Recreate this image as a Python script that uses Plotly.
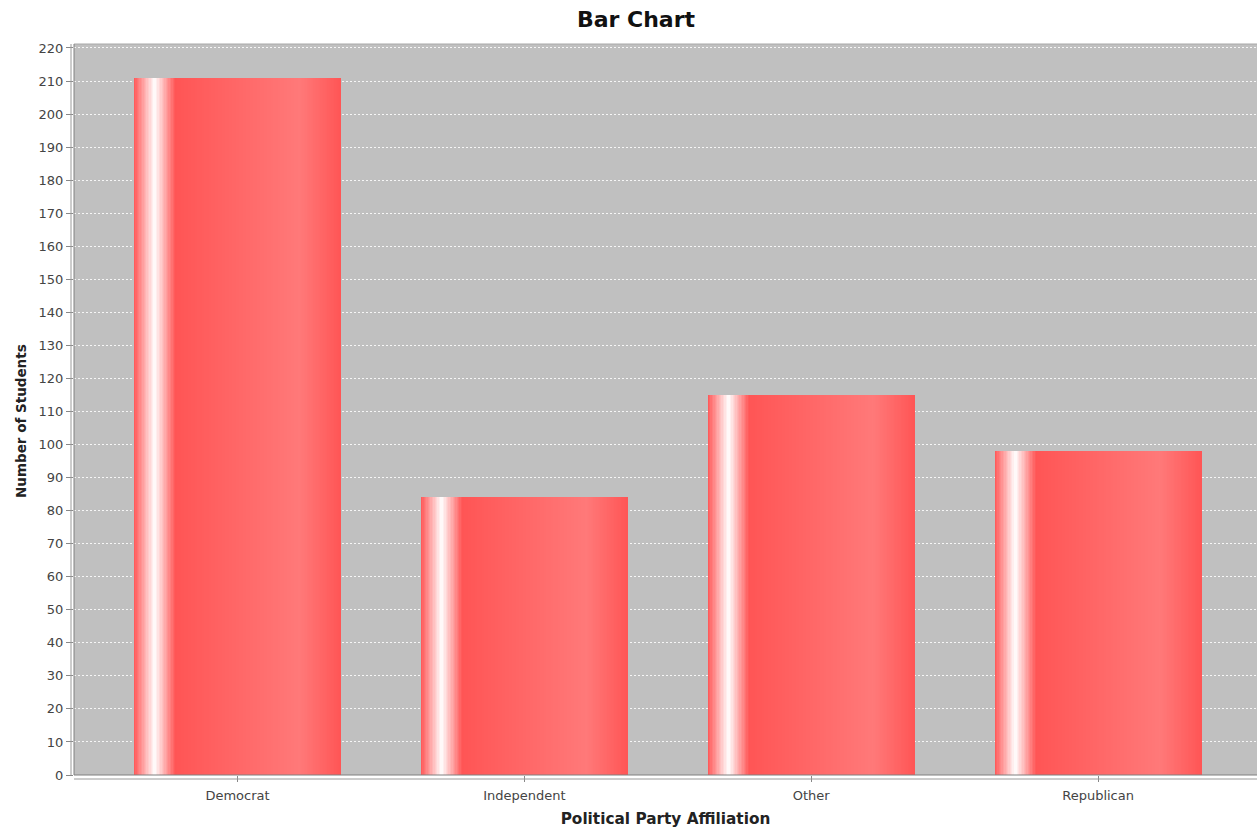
import plotly.graph_objects as go

# Survey counts by party affiliation
categories = ["Democrat", "Independent", "Other", "Republican"]
students = [211, 84, 115, 98]
y_ticks = list(range(0, 221, 10))

# Bar styling: horizontal "glossy" gradient built from thin overlaid slices
BAR_WIDTH = 0.722
N_SLICES = 150
BASE = (255, 85, 85)
BRIGHT = (255, 121, 121)
WHITE = (255, 255, 255)
STOPS = [(0.0, BASE), (0.1, WHITE), (0.2, BASE), (0.8, BRIGHT), (1.0, BASE)]

FONT = "DejaVu Sans"


def shade(t):
    for (t0, c0), (t1, c1) in zip(STOPS[:-1], STOPS[1:]):
        if t0 <= t <= t1:
            f = (t - t0) / (t1 - t0)
            r, g, b = (round(a + (b_ - a) * f) for a, b_ in zip(c0, c1))
            return f"rgb({r},{g},{b})"
    return "rgb(%d,%d,%d)" % BASE


fig = go.Figure()
step = BAR_WIDTH / N_SLICES
for i in range(N_SLICES):
    t = (i + 0.5) / N_SLICES
    w = step * (2.0 if i < N_SLICES - 1 else 1.0)
    fig.add_trace(
        go.Bar(
            x=categories,
            y=students,
            width=w,
            offset=-BAR_WIDTH / 2 + i * step,
            marker=dict(color=shade(t), line=dict(width=0)),
            showlegend=False,
            hoverinfo="skip",
        )
    )

W, H = 1257, 831
ML, MT, MB = 74, 44, 56
plot_w, plot_h = W - ML, H - MT - MB

fig.update_layout(
    template="none",
    width=W,
    height=H,
    margin=dict(l=ML, r=0, t=MT, b=MB),
    paper_bgcolor="white",
    plot_bgcolor="#c0c0c0",
    barmode="overlay",
    bargap=0,
    title=dict(
        text="<b>Bar Chart</b>",
        xref="container",
        x=636 / W,
        xanchor="center",
        yref="container",
        y=1 - 19 / H,
        yanchor="middle",
        font=dict(family=FONT, size=22, color="#111"),
    ),
    xaxis=dict(
        type="category",
        range=[-0.570, 3.554],
        automargin=False,
        showgrid=False,
        zeroline=False,
        showline=False,
        ticks="outside",
        ticklen=6,
        tickcolor="#888",
        ticklabelstandoff=2,
        tickfont=dict(family=FONT, size=13, color="#444"),
        title=dict(
            text="<b>Political Party Affiliation</b>",
            font=dict(family=FONT, size=15.3, color="#222"),
            standoff=11,
        ),
    ),
    yaxis=dict(
        range=[0, 221.2],
        tickvals=y_ticks,
        automargin=False,
        showgrid=True,
        gridcolor="rgba(255,255,255,0.85)",
        gridwidth=1,
        griddash="2px,2px",
        zeroline=False,
        showline=False,
        ticks="outside",
        ticklen=7,
        tickcolor="#888",
        tickfont=dict(family=FONT, size=13, color="#444"),
    ),
    annotations=[
        dict(
            text="<b>Number of Students</b>",
            textangle=-90,
            xref="paper",
            yref="paper",
            x=(21 - ML) / plot_w,
            y=(H - MB - 421) / plot_h,
            xanchor="center",
            yanchor="middle",
            showarrow=False,
            font=dict(family=FONT, size=13.5, color="#222"),
        )
    ],
    shapes=[
        # plot area outline (top, left, bottom; the right edge runs off the page)
        dict(type="line", xref="paper", yref="paper", x0=0, x1=1, y0=1, y1=1,
             line=dict(color="#a8a8a8", width=1), layer="above"),
        dict(type="line", xref="paper", yref="paper", x0=0, x1=0, y0=0, y1=1,
             line=dict(color="#808080", width=1), layer="above"),
        dict(type="line", xref="paper", yref="paper", x0=0, x1=1, y0=0, y1=0,
             line=dict(color="#808080", width=1), layer="above"),
        # range axis line, offset left of the plot
        dict(type="line", xref="paper", yref="paper", xsizemode="pixel", xanchor=0,
             x0=-3, x1=-3, y0=0, y1=1, line=dict(color="#9a9a9a", width=1)),
        # domain axis line, offset below the plot
        dict(type="line", xref="paper", yref="paper", ysizemode="pixel", yanchor=0,
             x0=0, x1=1, y0=-4, y1=-4, line=dict(color="#9a9a9a", width=1)),
    ],
)

fig.write_html("out.html")
